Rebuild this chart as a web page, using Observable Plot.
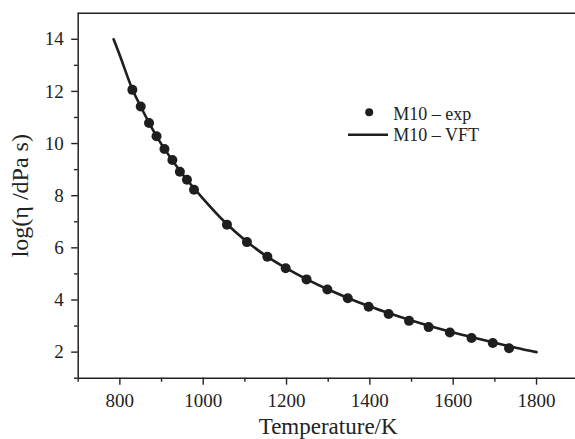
<!DOCTYPE html>
<html><head><meta charset="utf-8">
<script src="https://cdn.jsdelivr.net/npm/d3@7"></script>
<script src="https://cdn.jsdelivr.net/npm/@observablehq/plot@0.6"></script>
<style>
html,body{margin:0;padding:0;overflow:hidden;background:#fff;}
#chart svg text{font-family:'Liberation Serif','Times New Roman',serif !important;font-variant:normal !important;}
</style>
</head><body><div id="chart"></div>
<script>
// Measured points (M10 – exp)
const expT = [830, 850, 870, 888, 907, 926, 944, 961, 978, 1057, 1105, 1154, 1198, 1248, 1298, 1347, 1397, 1445, 1494, 1541, 1592, 1644, 1695, 1734];
const expLogEta = [12.06, 11.42, 10.79, 10.28, 9.79, 9.37, 8.92, 8.61, 8.23, 6.89, 6.22, 5.66, 5.22, 4.79, 4.40, 4.07, 3.74, 3.46, 3.20, 2.96, 2.75, 2.54, 2.35, 2.15];
// Fitted curve (M10 – VFT)
const fitT = [785, 800, 830, 850, 870, 900, 950, 1000, 1050, 1100, 1150, 1200, 1250, 1300, 1350, 1400, 1450, 1500, 1550, 1600, 1650, 1700, 1750, 1800];
const fitLogEta = [14.0, 13.38, 12.08, 11.42, 10.8, 9.97, 8.83, 7.88, 7.02, 6.3, 5.7, 5.21, 4.78, 4.4, 4.06, 3.75, 3.47, 3.21, 2.97, 2.75, 2.55, 2.36, 2.17, 2.0];

const xMajorTicks = [800, 1000, 1200, 1400, 1600, 1800];
const xMinorTicks = [700, 900, 1100, 1300, 1500, 1700, 1900];
const yMajorTicks = [2, 4, 6, 8, 10, 12, 14];
const yMinorTicks = [1, 3, 5, 7, 9, 11, 13];
const seriesLabels = ["M10 – exp", "M10 – VFT"];
const xTitle = "Temperature/K";
const yTitle = "log(η /dPa s)";

const expData = expT.map((t, i) => ({T: t, v: expLogEta[i]}));
const fitData = fitT.map((t, i) => ({T: t, v: fitLogEta[i]}));

const ink = "#1e1e1e";
const serif = "'Liberation Serif', 'Times New Roman', serif";
const legendLine = {draw(ctx) { ctx.moveTo(-20, 0); ctx.lineTo(20, 0); }};

const chart = Plot.plot({
  width: 575,
  height: 439,
  marginLeft: 77.7,
  marginRight: 0,
  marginTop: 12.7,
  marginBottom: 61.3,
  style: {fontFamily: serif, fontSize: "19px", color: "#222", background: "#fff"},
  x: {domain: [700, 1900], range: [77.7, 577.7]},
  y: {domain: [1, 15]},
  marks: [
    Plot.axisX({ticks: xMajorTicks, tickFormat: "d", tickSize: 7, tickPadding: 8, strokeWidth: 1.4, label: null, fontSize: 19, fontFamily: serif}),
    Plot.axisX({ticks: xMinorTicks, tickSize: 4, strokeWidth: 1.4, tickFormat: () => "", label: null}),
    Plot.axisY({ticks: yMajorTicks, tickFormat: "d", tickSize: 6.5, tickPadding: 8, strokeWidth: 1.4, label: null, fontSize: 19, fontFamily: serif}),
    Plot.axisY({ticks: yMinorTicks, tickSize: 3.7, strokeWidth: 1.4, tickFormat: () => "", label: null}),
    Plot.ruleY([1], {stroke: "#222", strokeWidth: 1.5}),
    Plot.ruleY([15], {stroke: "#222", strokeWidth: 1.5}),
    Plot.ruleX([700], {stroke: "#222", strokeWidth: 1.5}),
    Plot.line(fitData, {x: "T", y: "v", stroke: ink, strokeWidth: 2.6, curve: "catmull-rom"}),
    Plot.dot(expData, {x: "T", y: "v", r: 5, fill: ink, stroke: "none"}),
    // legend
    Plot.dot([0], {frameAnchor: "top-left", dx: 291, dy: 99, r: 4, fill: ink, stroke: "none"}),
    Plot.dot([0], {frameAnchor: "top-left", dx: 289.8, dy: 121.6, r: 1, symbol: legendLine, fill: "none", stroke: ink, strokeWidth: 2.6}),
    Plot.text([seriesLabels[0]], {frameAnchor: "top-left", dx: 315, dy: 106.3, textAnchor: "start", lineAnchor: "bottom", fontSize: 18, fill: "#222"}),
    Plot.text([seriesLabels[1]], {frameAnchor: "top-left", dx: 315, dy: 127.3, textAnchor: "start", lineAnchor: "bottom", fontSize: 18, fill: "#222"}),
    // axis titles
    Plot.text([xTitle], {frameAnchor: "bottom", textAnchor: "middle", dx: 1.3, dy: 56, lineAnchor: "bottom", fontSize: 23, fill: "#222"}),
    Plot.text([yTitle], {frameAnchor: "left", textAnchor: "middle", dx: -50, rotate: -90, lineAnchor: "bottom", fontSize: 24, fill: "#222"})
  ]
});
document.getElementById("chart").appendChild(chart);
</script>
</body></html>
